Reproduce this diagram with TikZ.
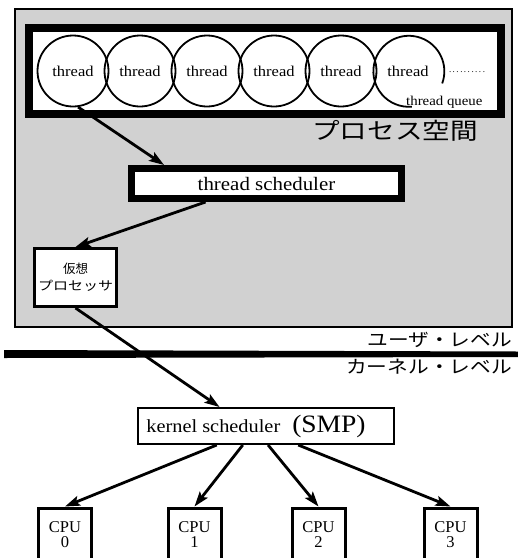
\documentclass[tikz,border=0pt]{standalone}
\usepackage{fontspec}
\usepackage{graphicx}
\setmainfont{Liberation Serif}
\newfontfamily\jp{Noto Sans CJK JP}
\usetikzlibrary{arrows.meta,calc}
\definecolor{stipple}{gray}{0.82}
\newcommand{\hx}[1]{\scalebox{1.1}[1]{#1}}
\newcommand{\jx}[2]{\scalebox{#1}[1]{#2}}
\begin{document}
\begin{tikzpicture}[x=1pt,y=1pt,
  thr/.style={circle, draw, line width=1.8pt, minimum size=71pt, inner sep=0pt, font=\fontsize{15}{15}\selectfont},
  arr/.style={line width=2.8pt, -{Stealth[length=15pt,width=10pt,inset=3pt]}},
  cpubox/.style={draw, line width=3pt, fill=white, minimum width=53pt, minimum height=70pt, anchor=north, inner sep=0pt},
  cpulabel/.style={align=center, font=\fontsize{16.5}{15}\selectfont, anchor=north, inner sep=0pt},
  jlabel/.style={font=\jp\fontsize{18}{18}\selectfont, inner sep=0pt, anchor=east},
  thickbox/.style={draw, fill=white, inner sep=0pt},
]
\useasboundingbox (0,0) rectangle (518,-558);
\fill[white] (0,0) rectangle (518,-558);
% process space
\draw[line width=2.5pt, fill=stipple] (15,-9) rectangle (512,-327);
% thread queue box
\draw[line width=8pt, fill=white] (29,-28) rectangle (501,-114);
\foreach \i/\x in {1/73,2/140,3/207,4/274,5/341}
  \node[thr] (t\i) at (\x,-71) {\hx{thread}};
\node[thr, draw=none] (t6) at (408,-71) {\hx{thread}};
\draw[line width=1.8pt] (t6.-20) arc[start angle=-20, end angle=275, radius=35.5];
\node[font=\fontsize{9}{9}\selectfont, inner sep=0pt] (dots) at (467,-72) {.\,.\,.\,.\,.\,.\,.\,.\,.\,.};
\node[font=\fontsize{13.5}{13.5}\selectfont, inner sep=0pt, anchor=west] (tq) at (406,-102) {\hx{thread queue}};
\node[font=\jp\fontsize{23}{23}\selectfont, inner sep=0pt] (ps) at (395,-131) {\jx{1.2}{プロセス空間}};
% thread scheduler
\node[thickbox, line width=7pt, minimum width=270pt, minimum height=30pt, font=\fontsize{19}{19}\selectfont] (ts) at (266.5,-183.5) {\hx{thread scheduler}};
% virtual processor
\node[thickbox, line width=3pt, minimum width=82pt, minimum height=58pt, align=center, font=\jp\fontsize{12.5}{17}\selectfont] (vp) at (75.5,-277.5) {仮想\\\jx{1.2}{プロセッサ}};
% user / kernel boundary
\fill (4,-350) -- (518,-351.5) -- (518,-357) -- (4,-358) -- cycle;
\node[jlabel] (ul) at (512,-340) {\jx{1.15}{ユーザ・レベル}};
\node[jlabel] (kl) at (512,-367) {\jx{1.15}{カーネル・レベル}};
% kernel scheduler
\node[thickbox, line width=2pt, minimum width=256pt, minimum height=36pt, font=\fontsize{18.5}{18.5}\selectfont] (ks) at (266,-426)
  {\hx{kernel scheduler}\hspace{12pt}{\fontsize{25}{25}\selectfont\hx{(SMP)}}\kern20pt\null};
% CPUs
\foreach \i/\x in {0/65,1/194.5,2/318.5,3/450.5} {
  \node[cpubox] (c\i) at (\x,-506.5) {};
  \node[cpulabel] (l\i) at ([yshift=-15pt]c\i.north) {CPU\\\i};
}
% arrows
\draw[arr] (t1.-82) -- ($(ts.north west)!0.13!(ts.north east)$);
\draw[arr] ($(ts.south west)!0.28!(ts.south east)$) -- (vp.north);
\draw[arr] (vp.south) -- ($(ks.north west)!0.32!(ks.north east)$);
\foreach \i/\t in {0/0.309,1/0.41,2/0.508,3/0.625}
  \draw[arr] ($(ks.south west)!\t!(ks.south east)$) -- (c\i.north);
\end{tikzpicture}
\end{document}
